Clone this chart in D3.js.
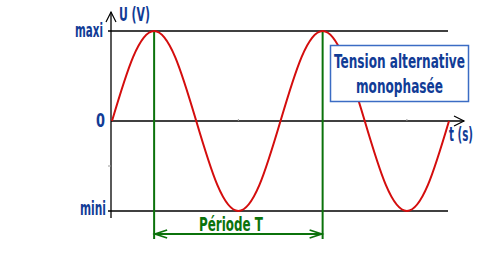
<!DOCTYPE html>
<html lang="fr">
<head>
<meta charset="UTF-8">
<title>Tension alternative monophasée</title>
<script src="https://d3js.org/d3.v7.min.js"></script>
<style>
  body { margin: 0; padding: 0; background: #ffffff; }
  svg { display: block; }
  .lbl { font-family: "Liberation Sans Narrow", "DejaVu Sans Condensed", Arial, sans-serif; font-weight: bold; }
</style>
</head>
<body>
<div id="chart"></div>
<script>
  // values (t in periods, u relative to the peak)
  const tVals = [0, 0.125, 0.25, 0.375, 0.5, 0.625, 0.75, 0.875, 1, 1.125, 1.25, 1.375, 1.5, 1.625, 1.75, 1.875, 2];
  const uVals = [0, 0.71, 1, 0.71, 0, -0.71, -1, -0.71, 0, 0.71, 1, 0.71, 0, -0.71, -1, -0.71, 0];
  const yLevels = [1, 0, -1];
  const yLabels = ["maxi", "0", "mini"];
  const periodMarks = [0.25, 1.25];
  const minorT = [0.25, 0.75, 1.25, 1.75];
  const minorU = [-0.5];

  const width = 491, height = 253;
  const x = d3.scaleLinear().domain([0, 2]).range([112, 449]);
  const y = d3.scaleLinear().domain([-1, 1]).range([211, 31]);
  const red = "#d40d0d", green = "#0b720b", blue = "#113c96";

  const svg = d3.select("#chart").append("svg")
      .attr("width", width).attr("height", height);

  // squeeze a label horizontally into the width it takes in the picture
  function fitText(str, x0, base, w, size, fill) {
    const t = svg.append("text").attr("class", "lbl")
        .attr("fill", fill).style("font-size", size + "px")
        .text(str);
    const len = t.node().getComputedTextLength();
    t.attr("transform", `translate(${x0},${base}) scale(${w / len},1)`);
    return t;
  }

  // maxi / mini guide lines
  svg.selectAll("line.level")
    .data([1, -1])
    .enter().append("line")
      .attr("x1", 108).attr("x2", x(2) - 1)
      .attr("y1", d => y(d)).attr("y2", d => y(d))
      .attr("stroke", "#000").attr("stroke-width", 1.3);

  // time axis
  svg.append("line")
      .attr("x1", x(0) - 1).attr("x2", 464)
      .attr("y1", y(0)).attr("y2", y(0))
      .attr("stroke", "#000").attr("stroke-width", 1.3);
  svg.append("polyline")
      .attr("points", [[454, y(0) - 5], [464, y(0)], [454, y(0) + 5]])
      .attr("fill", "none").attr("stroke", "#000").attr("stroke-width", 1.2);

  // voltage axis
  svg.append("line")
      .attr("x1", x(0) - 1).attr("x2", x(0) - 1)
      .attr("y1", 218).attr("y2", 12)
      .attr("stroke", "#000").attr("stroke-width", 1.3);
  svg.append("polyline")
      .attr("points", [[x(0) - 6, 22], [x(0) - 1, 12], [x(0) + 4, 22]])
      .attr("fill", "none").attr("stroke", "#000").attr("stroke-width", 1.2);

  // small ticks
  svg.selectAll("line.tt")
    .data(minorT)
    .enter().append("line")
      .attr("x1", d => x(d)).attr("x2", d => x(d))
      .attr("y1", y(0) - 2).attr("y2", y(0))
      .attr("stroke", "#999").attr("stroke-width", 1);
  svg.selectAll("line.tu")
    .data(minorU)
    .enter().append("line")
      .attr("x1", x(0) - 4).attr("x2", x(0) - 1)
      .attr("y1", d => y(d)).attr("y2", d => y(d))
      .attr("stroke", "#999").attr("stroke-width", 1);

  // period markers
  svg.selectAll("line.period")
    .data(periodMarks)
    .enter().append("line")
      .attr("x1", d => x(d)).attr("x2", d => x(d))
      .attr("y1", y(1)).attr("y2", 239)
      .attr("stroke", green).attr("stroke-width", 2);

  const ay = 234, a0 = x(periodMarks[0]), a1 = x(periodMarks[1]);
  svg.append("line")
      .attr("x1", a0).attr("x2", a1).attr("y1", ay).attr("y2", ay)
      .attr("stroke", green).attr("stroke-width", 2);
  svg.append("polyline")
      .attr("points", [[a0 + 13, ay - 4], [a0 + 1, ay], [a0 + 13, ay + 4]])
      .attr("fill", "none").attr("stroke", green).attr("stroke-width", 1.8);
  svg.append("polyline")
      .attr("points", [[a1 - 13, ay - 4], [a1 - 1, ay], [a1 - 13, ay + 4]])
      .attr("fill", "none").attr("stroke", green).attr("stroke-width", 1.8);

  fitText("Période T", 199, 231, 64, 19, green);

  // the voltage curve
  const line = d3.line()
      .x((d, i) => x(tVals[i]))
      .y(d => y(d))
      .curve(d3.curveNatural);
  svg.append("path")
      .attr("d", line(uVals))
      .attr("fill", "none").attr("stroke", red).attr("stroke-width", 2);

  // level labels
  const labPos = [[75, 28], [96, 9], [80, 26]];
  yLevels.forEach((d, i) => {
    fitText(yLabels[i], labPos[i][0], y(d) + (i === 2 ? 4 : 6), labPos[i][1], 19, blue);
  });

  fitText("U (V)", 119, 21, 31, 20, blue);
  fitText("t (s)", 449, 141, 24, 20, blue);

  // title box
  svg.append("rect")
      .attr("x", 330.5).attr("y", 45.5).attr("width", 138).attr("height", 56)
      .attr("fill", "#fff").attr("stroke", "#3b6cc4").attr("stroke-width", 1.5);
  fitText("Tension alternative", 334, 68, 131, 20, blue);
  fitText("monophasée", 356, 93, 87, 20, blue);
</script>
</body>
</html>
